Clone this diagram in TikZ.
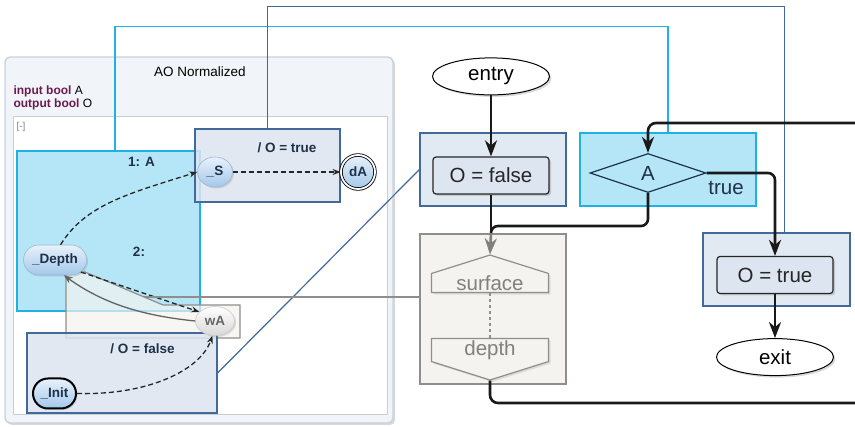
\documentclass[tikz,border=0pt]{standalone}
\usepackage{fontspec}
\setmainfont{Liberation Sans}
\usetikzlibrary{shapes.geometric, shapes.misc, shapes.symbols, arrows.meta, positioning, calc, shadows}
\definecolor{aoedge}{HTML}{C8D2E0}
\definecolor{aofill}{HTML}{F1F4F9}
\definecolor{paneledge}{HTML}{C9CDD4}
\definecolor{stblue}{HTML}{41699B}
\definecolor{stfill}{HTML}{DCE5F0}
\definecolor{cyline}{HTML}{1EB1E4}
\definecolor{cyfill}{HTML}{B4E6F7}
\definecolor{grline}{HTML}{8E8E8C}
\definecolor{grfill}{HTML}{F4F3EF}
\definecolor{kwpurple}{HTML}{6D1B4F}
\definecolor{lbltext}{HTML}{1D3249}
\definecolor{statetop}{HTML}{E8F1FB}
\definecolor{statebot}{HTML}{A3C8EA}
\definecolor{stateedge}{HTML}{9DB6D2}

\begin{document}
\begin{tikzpicture}[
    x=1pt, y=-1pt,
    node distance=44pt,
    every node/.style={font=\fontsize{13.5}{16}\selectfont},
    aoframe/.style={rectangle, rounded corners=5pt, draw=aoedge, fill=aofill, line width=1.4pt, drop shadow={opacity=0.3, shadow xshift=2pt, shadow yshift=-2pt}},
    panel/.style={rectangle, draw=paneledge, fill=white, line width=1pt},
    bluebox/.style={rectangle, draw=stblue, fill=stfill, line width=1.2pt, fill opacity=0.85},
    cyanbox/.style={rectangle, draw=cyline, fill=cyfill, line width=1.2pt},
    greybox/.style={rectangle, draw=grline, fill=grfill, line width=1.2pt},
    boxlabel/.style={font=\fontsize{13.5}{16}\selectfont\bfseries, text=lbltext},
    sstate/.style={ellipse, draw=stateedge, line width=0.6pt, top color=statetop, bottom color=statebot, text=lbltext, font=\fontsize{13.5}{16}\selectfont\bfseries, inner sep=1pt, drop shadow={opacity=0.25, shadow xshift=1.5pt, shadow yshift=-1.5pt}},
    pill/.style={sstate, rounded rectangle},
    flowbox/.style={rectangle, rounded corners=3pt, draw=black!85, line width=1.2pt, fill=stfill, minimum width=116pt, minimum height=37pt, text=black!85, font=\fontsize{20.5}{23}\selectfont, drop shadow={opacity=0.3, shadow xshift=2pt, shadow yshift=-2pt}},
    term/.style={ellipse, draw=black, line width=1pt, fill=white, minimum width=117pt, minimum height=37pt, font=\fontsize{20.5}{23}\selectfont, drop shadow={opacity=0.3, shadow xshift=2pt, shadow yshift=-2pt}},
    decide/.style={diamond, draw=lbltext, line width=1.2pt, fill=cyfill, minimum width=116pt, minimum height=39pt, inner sep=0pt, text=lbltext, font=\fontsize{20.5}{23}\selectfont},
    sigbox/.style={signal, signal pointer angle=145, draw=grline, line width=1.2pt, fill=grfill, minimum width=117pt, minimum height=28pt, inner sep=2pt, text=grline!90!black, font=\fontsize{20.5}{23}\selectfont, drop shadow={opacity=0.2, shadow xshift=2pt, shadow yshift=-2pt}},
    trans/.style={draw=black!85, line width=1.3pt, dash pattern=on 5pt off 3pt, -{Stealth[length=8pt, width=6pt]}},
    backtrans/.style={draw=grline!70!black, line width=1.3pt, -{Stealth[length=9pt, width=7pt]}},
    flow/.style={draw=black!90, line width=2.6pt, -{Stealth[length=16pt, width=12pt, inset=5pt]}},
    flowline/.style={draw=black!90, line width=2.6pt},
    greyflow/.style={draw=grline!90!black, line width=2.6pt, -{Stealth[length=16pt, width=12pt, inset=5pt]}},
    cylink/.style={draw=cyline, line width=1.4pt},
    bllink/.style={draw=stblue, line width=1.2pt},
    grlink/.style={draw=grline, line width=1.2pt}
]
\useasboundingbox (0,0) rectangle (855,427);
\clip (0,0) rectangle (855,427);

\node[aoframe, minimum width=388pt, minimum height=366pt] (ao) at (199,240) {};
\node (aotitle) at (200,72) {AO Normalized};
\node[anchor=west, font=\fontsize{12}{14}\selectfont] (ina) at (10,91) {\textcolor{kwpurple}{\textbf{input bool}} A};
\node[anchor=west, font=\fontsize{12}{14}\selectfont] (outo) at (10,104) {\textcolor{kwpurple}{\textbf{output bool}} O};
\node[panel, minimum width=374pt, minimum height=298pt] (pan) at (200,266) {};
\node[text=gray, font=\fontsize{10}{12}\selectfont] (fold) at (21,127) {[-]};

\node[cyanbox, minimum width=183pt, minimum height=160pt] (c1box) at (108.5,231) {};
\node[bluebox, minimum width=145pt, minimum height=73pt] (tbox) at (267.5,165.5) {};
\draw[greybox, fill opacity=0.7] (66,272) -- (85,272) -- (163,305) -- (240,305) -- (240,338) -- (66,338) -- cycle;
\coordinate (wreg) at (144,297);
\node[bluebox, minimum width=190pt, minimum height=80pt] (fbox) at (122,373) {};
\node[boxlabel] (lbl1) at (141.5,162) {1: A};
\node[boxlabel] (lbl2) at (139,252) {2:};
\node[boxlabel] (lblt) at (287,148) {/ O = true};
\node[boxlabel] (lblf) at (142.5,349) {/ O = false};

\node[sstate, minimum width=35pt, minimum height=30pt] (s) at (215,172) {\_S};
\node[sstate, circle, draw=black, line width=0.8pt, double=white, double distance=1.8pt, minimum size=34pt] (da) at (358,172) {dA};
\node[pill, minimum width=65pt, minimum height=30pt] (dpth) at (55,260) {\_Depth};
\node[sstate, top color=white, bottom color=black!15, draw=black!20, text=black!60, minimum width=39pt, minimum height=29pt] (wa) at (215,321) {wA};
\node[pill, draw=black, line width=2pt, minimum width=45pt, minimum height=30pt] (init) at (54.5,393.5) {\_Init};

\draw[trans] (s) -- (da);
\draw[trans] (dpth.70) .. controls +(25,-40) and +(-70,22) .. (s.west);
\draw[trans] (dpth.-25) -- (wa.150);
\draw[backtrans] (wa.west) .. controls +(-60,-6) and +(35,25) .. (dpth.-60);
\draw[trans] (init.east) .. controls +(70,2) and +(-12,35) .. (wa.-100);

\node[bluebox, minimum width=146pt, minimum height=73pt] (obox) at (493,169.5) {};
\node[cyanbox, minimum width=176pt, minimum height=73pt] (abox) at (668,169.5) {};
\node[greybox, minimum width=146pt, minimum height=150pt] (sdbox) at (493,309) {};
\node[bluebox, minimum width=147pt, minimum height=73pt] (otbox) at (776.5,269.5) {};

\draw[cylink] ([xshift=6.5pt]c1box.north) -- ++(0,-124) -| (abox.north);
\draw[bllink] (tbox.north) -- ++(0,-122) -| ([xshift=8pt]otbox.north);
\draw[bllink] (fbox.east) -- (obox.west);
\draw[grlink] (wreg) -- (wreg -| sdbox.west);

\node[flowbox] (ofalse) at (491,175.5) {O = false};
\node[term, above=61pt of ofalse] (entry) {entry};
\node[decide] (diam) at (648,173) {A};
\node[text=lbltext, font=\fontsize{20.5}{23}\selectfont] (truelbl) at (726,188) {true};
\node[flowbox] (otrue) at (775,275) {O = true};
\node[term, below=of otrue] (exit) {exit};
\node[sigbox, signal to=north] (surf) at (490,283) {surface};
\node[sigbox, signal to=south] (dep) at (490,350) {depth};

\coordinate (join) at (491,233);
\draw[flow] (entry) -- (ofalse);
\draw[flowline] (ofalse.south) -- (join);
\draw[flowline, rounded corners=7pt] (diam.south) |- ([yshift=7pt]join) -- (join);
\draw[greyflow] (join) -- (surf.north);
\draw[flow, rounded corners=7pt] (diam.east) -| (otrue.north);
\draw[flow] (otrue) -- (exit);
\draw[draw=grline, line width=2.5pt, dash pattern=on 3pt off 3pt] (surf.south) -- (dep.north);
\draw[flow, rounded corners=8pt] (dep.south) |- (880,403) -- (880,123) -| (diam.north);
\end{tikzpicture}
\end{document}
